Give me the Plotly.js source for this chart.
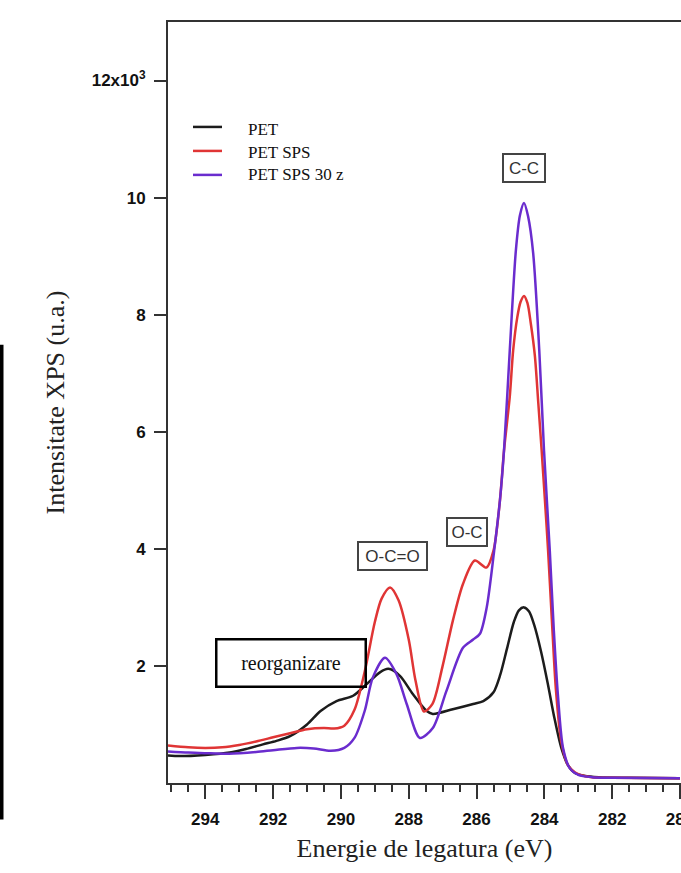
<!DOCTYPE html>
<html>
<head>
<meta charset="utf-8">
<script src="https://cdn.plot.ly/plotly-3.0.1.min.js"></script>
<style>html,body{margin:0;padding:0;background:#fff;}#chart{width:681px;height:873px;}</style>
</head>
<body>
<div id="chart"></div>
<script>
// Series names
const seriesNames = ["PET", "PET SPS", "PET SPS 30 z"];

// Binding energy (eV) and intensity (x10^3 counts, u.a.)
const petX = [295.1, 294.75, 294.0, 293.28, 292.8, 292.3, 291.9, 291.5, 291.0, 290.6, 290.13, 289.64, 289.24, 288.85, 288.6, 288.26, 287.88, 287.47, 287.29, 286.7, 286.1, 285.8, 285.5, 285.3, 285.1, 284.9, 284.75, 284.6, 284.45, 284.3, 284.1, 283.9, 283.7, 283.5, 283.3, 283.1, 282.8, 282.4, 281.5, 280.0];
const petY = [0.47, 0.46, 0.48, 0.52, 0.58, 0.66, 0.72, 0.80, 1.00, 1.23, 1.40, 1.49, 1.69, 1.89, 1.95, 1.83, 1.52, 1.23, 1.18, 1.26, 1.35, 1.40, 1.55, 1.85, 2.30, 2.75, 2.95, 3.00, 2.93, 2.70, 2.25, 1.70, 1.10, 0.60, 0.30, 0.17, 0.12, 0.10, 0.09, 0.08];

const spsX = [295.1, 294.5, 294.0, 293.5, 293.0, 292.5, 292.0, 291.5, 291.0, 290.5, 290.2, 289.9, 289.6, 289.3, 289.0, 288.8, 288.55, 288.3, 288.0, 287.8, 287.55, 287.3, 287.0, 286.7, 286.4, 286.05, 285.71, 285.5, 285.31, 285.19, 285.02, 284.92, 284.8, 284.7, 284.6, 284.5, 284.4, 284.28, 284.18, 284.08, 283.98, 283.89, 283.78, 283.66, 283.5, 283.3, 283.0, 282.6, 282.0, 280.0];
const spsY = [0.64, 0.61, 0.60, 0.61, 0.65, 0.71, 0.78, 0.85, 0.92, 0.94, 0.93, 0.98, 1.25, 1.90, 2.75, 3.15, 3.34, 3.12, 2.45, 1.75, 1.22, 1.35, 2.00, 2.77, 3.40, 3.80, 3.68, 3.97, 4.83, 5.68, 6.60, 7.39, 7.95, 8.22, 8.32, 8.20, 7.85, 7.30, 6.50, 5.68, 4.80, 3.97, 2.80, 1.60, 0.70, 0.30, 0.15, 0.10, 0.09, 0.08];

const sps30X = [295.1, 294.5, 294.0, 293.3, 292.5, 292.0, 291.3, 290.8, 290.3, 289.9, 289.6, 289.3, 289.06, 288.7, 288.36, 288.06, 287.67, 287.29, 286.89, 286.4, 286.1, 285.9, 285.7, 285.48, 285.31, 285.19, 285.02, 284.84, 284.72, 284.6, 284.48, 284.33, 284.15, 284.01, 283.84, 283.72, 283.6, 283.45, 283.25, 283.0, 282.6, 282.0, 280.0];
const sps30Y = [0.54, 0.52, 0.51, 0.50, 0.53, 0.56, 0.60, 0.59, 0.55, 0.60, 0.77, 1.23, 1.80, 2.14, 1.86, 1.35, 0.77, 0.94, 1.57, 2.31, 2.45, 2.55, 3.00, 3.97, 4.83, 5.68, 7.39, 9.10, 9.70, 9.91, 9.68, 9.05, 7.39, 5.68, 3.97, 2.60, 1.50, 0.60, 0.25, 0.14, 0.10, 0.09, 0.08];

// Tick labels
const xTickVals = [294, 292, 290, 288, 286, 284, 282, 280];
const yTickVals = [2, 4, 6, 8, 10, 12];
const yTickText = ["2", "4", "6", "8", "10", "12x10<sup>3</sup>"];

// Peak labels
const peakLabels = ["C-C", "O-C", "O-C=O"];
const peakLabelX = [284.6, 286.28, 288.47];
const peakLabelY = [10.51, 4.28, 3.88];
const noteText = "reorganizare";

const colors = ["#1c1c1c", "#e03535", "#6a2cce"];

const traces = [
  {x: petX, y: petY, name: seriesNames[0], mode: "lines", line: {color: colors[0], width: 2.5, shape: "spline", smoothing: 0.8}},
  {x: spsX, y: spsY, name: seriesNames[1], mode: "lines", line: {color: colors[1], width: 2.5, shape: "spline", smoothing: 0.8}},
  {x: sps30X, y: sps30Y, name: seriesNames[2], mode: "lines", line: {color: colors[2], width: 2.5, shape: "spline", smoothing: 0.8}}
];

// paper-coordinate helpers (plot area: left 168, right 681, top 22, bottom 783.5)
const L = 168, R = 681, T = 22, B = 783.5;
const px = v => (v - L) / (R - L);
const py = v => (B - v) / (B - T);

const shapes = [];
const annotations = [];
const legendLineY = [127, 151, 175];
const legendTextY = [130, 153, 175];
for (let i = 0; i < 3; i++) {
  shapes.push({type: "line", xref: "paper", yref: "paper", x0: px(193), x1: px(222), y0: py(legendLineY[i]), y1: py(legendLineY[i]), line: {color: colors[i], width: 2.5}});
  annotations.push({xref: "paper", yref: "paper", x: px(246), y: py(legendTextY[i]), xanchor: "left", yanchor: "middle", text: seriesNames[i], showarrow: false, font: {family: "Liberation Serif, Times New Roman, serif", size: 17, color: "#111"}});
}
// artifact bar at the far left edge of the image
shapes.push({type: "rect", xref: "paper", yref: "paper", x0: px(0), x1: px(3.5), y0: py(820), y1: py(345), fillcolor: "#000", line: {width: 0}});

const boxW = [40, 38, 67];
for (let i = 0; i < 3; i++) {
  annotations.push({x: peakLabelX[i], y: peakLabelY[i], xref: "x", yref: "y", text: peakLabels[i], showarrow: false, font: {family: "Liberation Sans, Arial, sans-serif", size: 17, color: "#333"}, bordercolor: "#444", borderwidth: 2, borderpad: 0, width: boxW[i], height: 26, bgcolor: "#fff"});
}
annotations.push({x: 291.48, y: 2.05, xref: "x", yref: "y", text: noteText, showarrow: false, font: {family: "Liberation Serif, Times New Roman, serif", size: 20, color: "#111"}, bordercolor: "#000", borderwidth: 2.5, borderpad: 0, width: 147, height: 45, bgcolor: "rgba(255,255,255,0)"});

const tickFont = {family: "Liberation Sans, Arial, sans-serif", size: 17, color: "#111", weight: "bold"};
const titleFont = {family: "Liberation Serif, Times New Roman, serif", size: 26, color: "#222"};

const layout = {
  width: 681, height: 873,
  margin: {l: L, r: 0, t: T, b: 873 - B, autoexpand: false},
  paper_bgcolor: "#fff", plot_bgcolor: "#fff",
  showlegend: false,
  xaxis: {
    range: [295.1, 279.97], autorange: false,
    tickmode: "array", tickvals: xTickVals,
    ticks: "outside", ticklen: 14, tickwidth: 2, tickcolor: "#333",
    minor: {tickmode: "linear", tick0: 0, dtick: 0.5, ticks: "outside", ticklen: 7, tickwidth: 2, tickcolor: "#333", showgrid: false},
    showline: true, linecolor: "#333", linewidth: 2, mirror: true,
    showgrid: false, zeroline: false,
    tickfont: tickFont, ticklabelstandoff: 6, ticklabeloverflow: "allow",
    title: {text: "Energie de legatura (eV)", font: titleFont, standoff: 10}
  },
  yaxis: {
    range: [0, 13], autorange: false,
    tickmode: "array", tickvals: yTickVals, ticktext: yTickText,
    ticks: "outside", ticklen: 12, tickwidth: 2, tickcolor: "#333",
    showline: true, linecolor: "#333", linewidth: 2,
    showgrid: false, zeroline: false,
    tickfont: tickFont, ticklabelstandoff: 5,
    title: {text: "Intensitate XPS (u.a.)", font: titleFont, standoff: 20}
  },
  shapes: shapes,
  annotations: annotations
};

Plotly.newPlot("chart", traces, layout, {displayModeBar: false, staticPlot: true});
</script>
</body>
</html>
